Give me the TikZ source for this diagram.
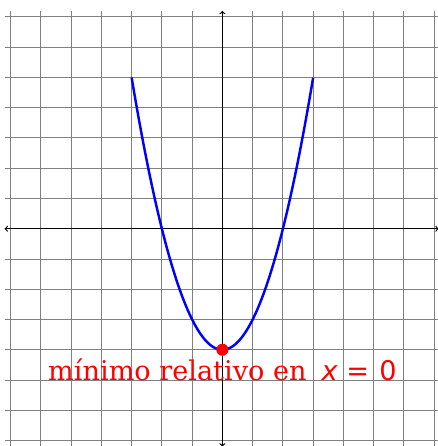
\documentclass[tikz,border=0pt]{standalone}
\usepackage{fontspec}
\newfontfamily\lblserif{DejaVu Serif}
\newfontfamily\lblsans{DejaVu Sans}
\tikzset{
  gridline/.style={gray, line width=0.9pt},
  axisline/.style={black, line width=1.1pt, <->, >=to},
  curve/.style={blue, line width=2.3pt},
  dotstyle/.style={circle, fill=red, inner sep=0pt, minimum size=0.4cm},
  lbl/.style={red, font=\fontsize{25.5}{31}\selectfont, anchor=base, inner sep=0pt}
}
\begin{document}
\begin{tikzpicture}[x=1cm,y=1cm]
\useasboundingbox (-7.35,-7.18) rectangle (7.12,7.56);
\draw[gridline] (-7.2,-7.2) grid (7.2,7.2);
\coordinate (xl) at (-7.2,0);
\coordinate (xr) at (7.15,0);
\coordinate (yb) at (0,-7.2);
\coordinate (yt) at (0,7.2);
\draw[axisline] (xl) -- (xr);
\draw[axisline] (yb) -- (yt);
\draw[curve] plot[domain=-3:3, samples=100, smooth] (\x, {\x*\x-4});
\node[dotstyle] (min) at (0,-4) {};
\node[lbl] (txt) at (0,-5) {{\lblserif mínimo relativo en}\hspace{0.55em}{\lblsans\itshape x}\hspace{0.32em}{\lblsans =}\hspace{0.38em}{\lblsans 0}};
\end{tikzpicture}
\end{document}
